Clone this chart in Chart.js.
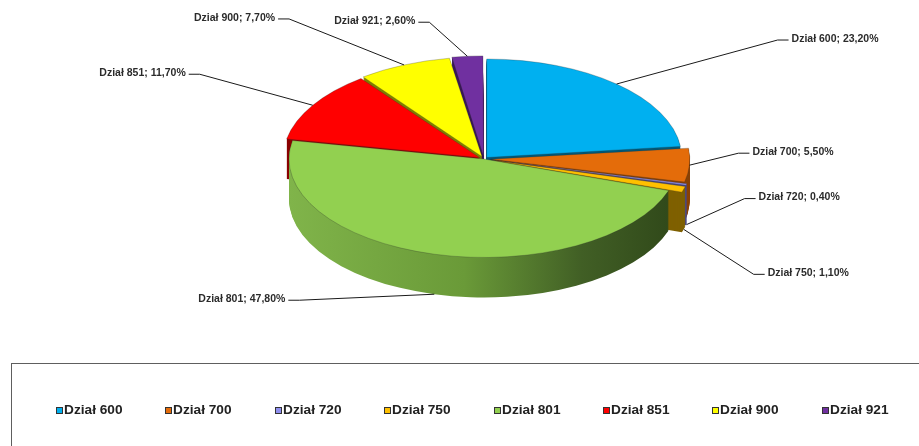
<!DOCTYPE html>
<html>
<head>
<meta charset="utf-8">
<script src="https://cdn.jsdelivr.net/npm/chart.js@4.4.1/dist/chart.umd.min.js"></script>
<style>
  html, body { margin: 0; padding: 0; background: #fff; }
  body { width: 919px; height: 446px; position: relative; overflow: hidden;
         font-family: "Liberation Sans", Arial, sans-serif; }
  #pie { position: absolute; left: 0; top: 0; }
  #legend-box { position: absolute; left: 11px; top: 363px; width: 940px; height: 120px;
                border: 1.5px solid #5e5e5e; box-sizing: border-box; }
  .lg-item { position: absolute; top: 39px; height: 14px; display: flex; align-items: center; white-space: nowrap; }
  .lg-swatch { width: 5px; height: 5px; border: 1px solid #333; }
  .lg-text { margin-left: 1px; font-weight: bold; font-size: 12px; color: #222;
             display: inline-block; transform: scaleX(1.14); transform-origin: left center; }
</style>
</head>
<body>
<canvas id="pie" width="919" height="446"></canvas>
<div id="legend-box"></div>
<script>
// ── Data ─────────────────────────────────────────────────────────────────────
const CATEGORIES = ["Dział 600", "Dział 700", "Dział 720", "Dział 750",
                    "Dział 801", "Dział 851", "Dział 900", "Dział 921"];
const SHARES     = [23.2, 5.5, 0.4, 1.1, 47.8, 11.7, 7.7, 2.6];

// ── Style ────────────────────────────────────────────────────────────────────
const COLORS      = ["#00B0F0", "#E46C0A", "#8F8FEF", "#FFC000",
                     "#92D050", "#FF0000", "#FFFF00", "#7030A0"];
const WALL_COLORS = ["#005A7A", "#8A4206", "#4A4A85", "#7F6000",
                     null,      "#8A0000", "#7F7F00", "#3A1858"];
const EXPLODE     = [16, 26, 28, 28, 0, 20, 20, 20];
const TILT  = 0.505;  // vertical squash of the pie
const DEPTH = 40;     // wall height, px

// leader-line elbow, relative to the slice's rim point
const LABEL_ELBOWS = [[161, -44], [49, -12], [58, -26], [70, 45],
                      [-135, 6], [-113, -31], [-115, -46], [-38, -34]];

function labelText(i) {
  return `${CATEGORIES[i]}; ${SHARES[i].toFixed(2).replace(".", ",")}%`;
}

// ── Plugins ──────────────────────────────────────────────────────────────────
const pie3d = {
  id: "pie3d",
  beforeDatasetsDraw(chart) {
    const ctx  = chart.ctx;
    const arcs = chart.getDatasetMeta(0).data;
    const cx = arcs[0].x, cy = arcs[0].y, r = arcs[0].outerRadius;

    ctx.save();
    ctx.translate(cx, cy);
    ctx.scale(1, TILT);
    ctx.translate(-cx, -cy);

    const greenWall = ctx.createLinearGradient(cx - r, 0, cx + r, 0);
    greenWall.addColorStop(0,    "#80B44A");
    greenWall.addColorStop(0.45, "#6A9A38");
    greenWall.addColorStop(0.75, "#415F25");
    greenWall.addColorStop(1,    "#2F4719");

    const ghosts = arcs.map((arc, i) => {
      const g = Object.assign(Object.create(Object.getPrototypeOf(arc)), arc);
      g.options = Object.assign({}, arc.options, {
        backgroundColor: WALL_COLORS[i] || greenWall,
        borderWidth: 0,
      });
      return g;
    });

    for (let d = DEPTH; d >= 1; d--) {
      ctx.save();
      ctx.translate(0, d / TILT);
      ghosts.forEach(g => g.draw(ctx));
      ctx.restore();
    }
  },
  afterDatasetsDraw(chart) {
    chart.ctx.restore();
    drawLabels(chart);
  },
};

function drawLabels(chart) {
  const ctx  = chart.ctx;
  const arcs = chart.getDatasetMeta(0).data;
  ctx.save();
  ctx.font = 'bold 10.5px "Liberation Sans", Arial, sans-serif';
  ctx.textBaseline = "middle";
  ctx.strokeStyle = "#1a1a1a";
  ctx.fillStyle = "#2b2b2b";
  ctx.lineWidth = 1;

  arcs.forEach((arc, i) => {
    const mid = (arc.startAngle + arc.endAngle) / 2;
    const t   = (arc.options.offset || 0) / 4;
    const fix = 1 - Math.sin(Math.min(Math.PI, arc.circumference));
    const rr  = arc.outerRadius + t * fix + t;
    const ax  = arc.x + Math.cos(mid) * rr;
    let ay    = arc.y + Math.sin(mid) * rr * TILT;
    if (Math.sin(mid) > 0.15) ay += DEPTH;

    const [dx, dy] = LABEL_ELBOWS[i];
    const ex = ax + dx, ey = ay + dy;
    const dir = dx >= 0 ? 1 : -1;

    ctx.beginPath();
    ctx.moveTo(ax, ay);
    ctx.lineTo(ex, ey);
    ctx.lineTo(ex + dir * 11, ey);
    ctx.stroke();

    ctx.textAlign = dir > 0 ? "left" : "right";
    ctx.fillText(labelText(i), ex + dir * 14, ey - 1);
  });
  ctx.restore();
}

const htmlLegend = {
  id: "htmlLegend",
  afterUpdate(chart) {
    const box = document.getElementById("legend-box");
    box.innerHTML = "";
    const items = chart.options.plugins.legend.labels.generateLabels(chart);
    items.forEach((item, i) => {
      const el = document.createElement("div");
      el.className = "lg-item";
      el.style.left = (44 + i * 109.4) + "px";
      el.innerHTML = `<span class="lg-swatch" style="background:${item.fillStyle}"></span>` +
                     `<span class="lg-text">${item.text}</span>`;
      box.appendChild(el);
    });
  },
};

// ── Chart ────────────────────────────────────────────────────────────────────
new Chart(document.getElementById("pie"), {
  type: "pie",
  data: {
    labels: CATEGORIES,
    datasets: [{
      data: SHARES,
      backgroundColor: COLORS,
      borderColor: "rgba(40,40,40,0.35)",
      borderWidth: 1,
      offset: EXPLODE,
      radius: 195,
      clip: false,
    }],
  },
  options: {
    responsive: false,
    animation: false,
    layout: { padding: { left: 49, right: 0, top: 0, bottom: 128 } },
    plugins: {
      legend: { display: false },
      tooltip: { enabled: false },
    },
  },
  plugins: [pie3d, htmlLegend],
});
</script>
</body>
</html>
